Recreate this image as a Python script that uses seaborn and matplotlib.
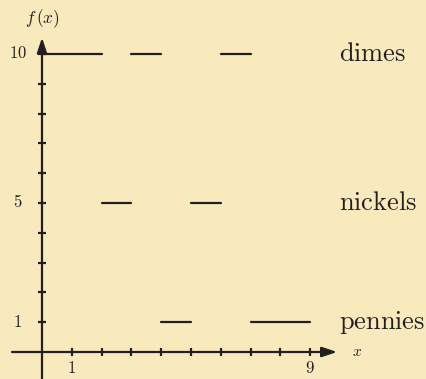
import numpy as np
import pandas as pd
import matplotlib
matplotlib.use("Agg")
import matplotlib.pyplot as plt
import seaborn as sns

# coin segments: (coin, x start, x end, value)
coins = ["dimes", "dimes", "dimes", "nickels", "nickels", "pennies", "pennies"]
x_start = [0, 3, 6, 2, 5, 4, 7]
x_end = [2, 4, 7, 3, 6, 5, 9]
values = [10, 10, 10, 5, 5, 1, 1]

x_ticks = [1, 2, 3, 4, 5, 6, 7, 8, 9]
x_tick_labels = {1: "1", 9: "9"}
y_ticks = [1, 2, 3, 4, 5, 6, 7, 8, 9, 10]
y_tick_labels = {1: "1", 5: "5", 10: "10"}
coin_labels = ["dimes", "nickels", "pennies"]
coin_values = [10, 5, 1]

bg = "#f9eabd"
ink = "#231f20"

sns.set_style("white")
plt.rcParams["mathtext.fontset"] = "cm"
plt.rcParams["font.family"] = ["DejaVu Serif"]

# long format for seaborn: one unit per segment
rows = []
for i, (c, a, b, v) in enumerate(zip(coins, x_start, x_end, values)):
    rows.append({"seg": i, "coin": c, "x": a, "y": v})
    rows.append({"seg": i, "coin": c, "x": b, "y": v})
df = pd.DataFrame(rows)

fig = plt.figure(figsize=(4.26, 3.79), dpi=100, facecolor=bg)
ax = fig.add_axes([0, 0, 1, 1])
ax.set_facecolor(bg)

# axes with arrowheads
ax.plot([-1.0, 9.6], [0, 0], color=ink, lw=1.6, zorder=2)
ax.plot([0, 0], [-1.0, 10.3], color=ink, lw=1.6, zorder=2)
ax.annotate("", xy=(10.0, 0), xytext=(9.3, 0),
            arrowprops=dict(arrowstyle="-|>,head_length=0.9,head_width=0.3",
                            color=ink, lw=1.6))
ax.annotate("", xy=(0, 10.64), xytext=(0, 10.0),
            arrowprops=dict(arrowstyle="-|>,head_length=0.9,head_width=0.3",
                            color=ink, lw=1.6))

# tick marks
ax.plot(x_ticks, [0] * len(x_ticks), ls="none", marker="|", ms=6, mew=1.6, color=ink)
ax.plot([0] * len(y_ticks), y_ticks, ls="none", marker="_", ms=6, mew=1.6, color=ink)
for t, lab in x_tick_labels.items():
    ax.text(t, -0.55, "$%s$" % lab, ha="center", va="center", fontsize=12, color=ink)
for t, lab in y_tick_labels.items():
    ax.text(-0.82, t, "$%s$" % lab, ha="center", va="center", fontsize=12, color=ink)

ax.text(0, 11.2, "$f\\,(x)$", ha="center", va="center", fontsize=12.5, color=ink)
ax.text(10.58, 0, "$x$", ha="center", va="center", fontsize=11, color=ink)

sns.lineplot(data=df, x="x", y="y", units="seg", estimator=None,
             color=ink, lw=1.6, ax=ax, legend=False)
ax.axis("off")
ax.set_xlim(-1.41, 12.89)
ax.set_ylim(-0.906, 11.81)

for lab, v in zip(coin_labels, coin_values):
    ax.text(9.98, v, "$\\mathrm{%s}$" % lab, ha="left", va="center",
            fontsize=19, color=ink)

fig.savefig("out.png", dpi=100, facecolor=bg)
